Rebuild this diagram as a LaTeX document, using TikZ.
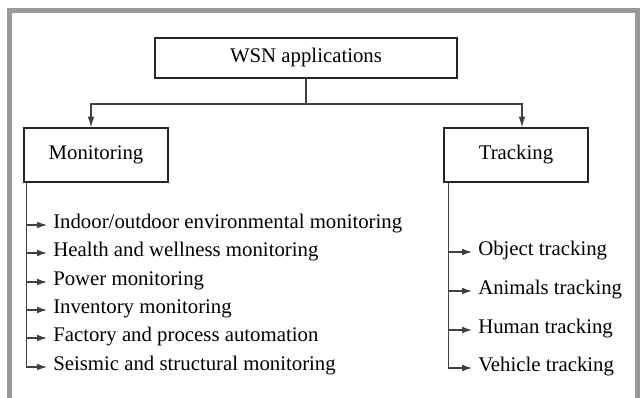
\documentclass[tikz,border=0pt]{standalone}
\usepackage{fontspec}
\setmainfont{Liberation Serif}
\usetikzlibrary{arrows.meta}
\begin{document}
\begin{tikzpicture}[x=0.75pt, y=-0.75pt, >={Latex[length=8pt, width=5pt]},
  box/.style={draw=black!85, line width=1.1pt, inner sep=0pt, font=\fontsize{15.6}{19}\selectfont},
  item/.style={anchor=west, inner sep=0pt, text height=0.69em, text depth=0.22em, font=\fontsize{15.6}{19}\selectfont},
  link/.style={draw=black!75, line width=0.8pt},
  leaf/.style={link, -{Latex[length=7.5pt, width=5pt]}, shorten >=4.5pt}]
  \useasboundingbox (0, 0) rectangle (640, 398);
  \draw[line width=3.75pt, black!40] (9.5, 398) |- (637.5, 10.5) -- (637.5, 398);

  \node[box, minimum width=226.5pt, minimum height=30pt] (wsn) at (306, 58) {WSN applications};
  \node[box, minimum width=108pt, minimum height=40.5pt] (mon) at (96, 155) {Monitoring};
  \node[box, minimum width=108pt, minimum height=40.5pt] (tra) at (516, 155) {Tracking};

  \draw[link] (wsn.south) -- (306, 104) coordinate (split);
  \draw[link, ->] (split) -| ([xshift=-3.75pt]mon.north);
  \draw[link, ->] (split) -| ([xshift=4.5pt]tra.north);

  \node[item] (m1) at (53, 225) {Indoor/outdoor environmental monitoring};
  \node[item] (m2) at (53, 253) {Health and wellness monitoring};
  \node[item] (m3) at (53, 282) {Power monitoring};
  \node[item] (m4) at (53, 310) {Inventory monitoring};
  \node[item] (m5) at (53, 338) {Factory and process automation};
  \node[item] (m6) at (53, 367) {Seismic and structural monitoring};

  \node[item] (t1) at (478, 252) {Object tracking};
  \node[item] (t2) at (478, 291) {Animals tracking};
  \node[item] (t3) at (478, 330) {Human tracking};
  \node[item] (t4) at (478, 368) {Vehicle tracking};

  \coordinate (mroot) at ([xshift=2.25pt]mon.south west);
  \coordinate (troot) at ([xshift=3.75pt]tra.south west);
  \draw[leaf] (mroot) |- (m1.west);
  \draw[leaf] (mroot) |- (m2.west);
  \draw[leaf] (mroot) |- (m3.west);
  \draw[leaf] (mroot) |- (m4.west);
  \draw[leaf] (mroot) |- (m5.west);
  \draw[leaf] (mroot) |- (m6.west);
  \draw[leaf] (troot) |- (t1.west);
  \draw[leaf] (troot) |- (t2.west);
  \draw[leaf] (troot) |- (t3.west);
  \draw[leaf] (troot) |- (t4.west);
\end{tikzpicture}
\end{document}
